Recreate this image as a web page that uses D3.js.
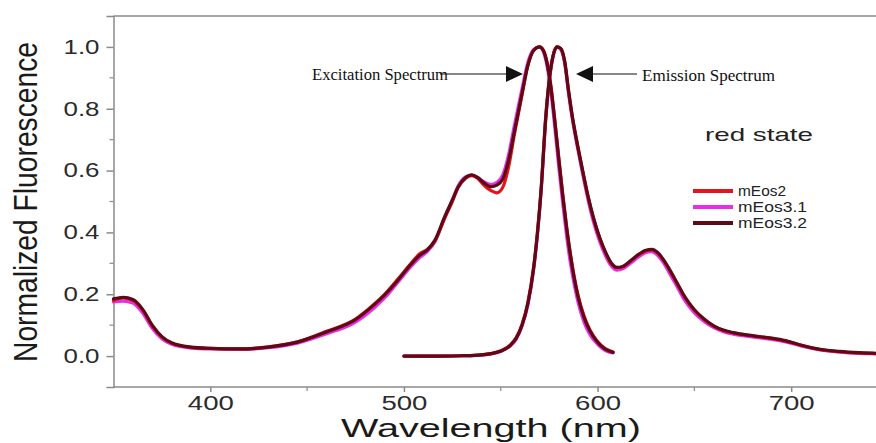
<!DOCTYPE html>
<html><head><meta charset="utf-8">
<script src="https://cdn.jsdelivr.net/npm/d3@7"></script>
<style>body{margin:0;background:#fff}svg{display:block}</style>
</head><body>
<svg id="chart" width="876" height="443"></svg>
<script>
// ---- data ----
const seriesNames = ["mEos2", "mEos3.1", "mEos3.2"];
const seriesColors = ["#e3141c", "#e82ee8", "#5e0a16"];
const xTicks = [400, 500, 600, 700];
const xMinorTicks = [450, 550, 650];
const yTicks = [0.0, 0.2, 0.4, 0.6, 0.8, 1.0];
const yMinorTicks = [0.1, 0.3, 0.5, 0.7, 0.9];

const excWl = [350,355,360,365,370,375,380,390,400,415,430,445,460,475,485,490,497,503,508,512,516,521,525,528,532,535,538,541,545,548,551,554,557,561,564,567,570,572,574,576,578,580,582,584,586,588,590,593,596,600,604,608];
const excMEos2 = [.18,.188,.18,.15,.098,.062,.042,.028,.025,.023,.03,.046,.08,.12,.17,.2,.25,.295,.33,.345,.372,.445,.5,.545,.576,.584,.575,.555,.535,.528,.545,.61,.715,.845,.94,.99,1.0,.99,.948,.87,.76,.64,.525,.42,.33,.255,.195,.13,.085,.047,.024,.013];
const excMEos31 = [.175,.178,.172,.14,.09,.056,.038,.026,.023,.022,.027,.042,.072,.11,.158,.188,.24,.285,.318,.338,.37,.448,.505,.55,.58,.585,.578,.565,.555,.562,.585,.65,.745,.865,.95,.992,1.0,.985,.935,.85,.735,.61,.495,.39,.3,.23,.172,.11,.07,.038,.018,.01];
const excMEos32 = [.185,.19,.183,.152,.10,.063,.043,.029,.025,.023,.029,.045,.078,.118,.168,.197,.246,.292,.325,.343,.375,.45,.505,.547,.578,.586,.578,.562,.548,.553,.572,.632,.725,.85,.94,.988,1.0,.988,.945,.865,.755,.635,.52,.415,.325,.25,.19,.125,.082,.045,.022,.012];

const emWl = [500,510,520,530,540,545,550,555,558,561,564,567,569,571,573,575,577,579,581,583,585,587,589,592,595,598,601,604,607,610,613,617,621,625,628,631,634,637,641,645,650,655,660,665,670,680,690,697,705,715,725,735,745,750];
const emMEos2 = [0,0,0,.001,.004,.008,.017,.036,.06,.103,.173,.29,.405,.555,.755,.892,.972,1.0,.994,.952,.858,.772,.702,.607,.518,.443,.383,.336,.3,.286,.289,.307,.327,.341,.344,.334,.311,.281,.236,.191,.149,.119,.097,.083,.075,.065,.057,.049,.035,.021,.014,.01,.008,.007];
const emMEos31 = [0,0,0,.001,.003,.007,.015,.033,.055,.097,.165,.28,.395,.545,.745,.885,.968,1.0,.992,.948,.85,.765,.695,.598,.508,.432,.372,.326,.292,.278,.282,.3,.32,.335,.338,.326,.302,.27,.225,.18,.14,.112,.092,.079,.071,.062,.054,.046,.033,.02,.013,.009,.007,.006];
const emMEos32 = [0,0,0,.001,.004,.008,.016,.035,.058,.10,.17,.285,.40,.55,.75,.89,.97,1.0,.995,.955,.86,.775,.705,.61,.52,.445,.385,.338,.302,.287,.29,.308,.328,.342,.345,.335,.312,.282,.237,.192,.15,.12,.098,.084,.076,.066,.058,.05,.036,.022,.015,.011,.009,.008];

// ---- chart ----
const svg = d3.select("#chart");
const x = d3.scaleLinear().domain([350, 750]).range([113.5, 888]);
const y = d3.scaleLinear().domain([-0.1, 1.1]).range([387, 16]);
const axisColor = "#8a8a8a";
const textColor = "#2b2b2b";

// frame top line
svg.append("line").attr("x1", x(350)).attr("x2", 876).attr("y1", y(1.1)).attr("y2", y(1.1))
  .attr("stroke", axisColor).attr("stroke-width", 1.5);

// X axis
const gx = svg.append("g").attr("transform", `translate(0,${y(-0.1)})`)
  .call(d3.axisBottom(x).tickValues(xTicks).tickSize(5).tickPadding(4).tickFormat(d3.format("d")));
gx.append("g").selectAll("line").data(xMinorTicks).join("line")
  .attr("x1", d => x(d)).attr("x2", d => x(d)).attr("y1", 0).attr("y2", 4)
  .attr("stroke", axisColor).attr("stroke-width", 1.2);
gx.select(".domain").attr("d", `M${x(350)},0H876`);
gx.selectAll(".domain, .tick line").attr("stroke", axisColor).attr("stroke-width", 1.5);
gx.selectAll(".tick text").attr("font-family", "Liberation Sans, Arial, sans-serif")
  .attr("font-size", 20).attr("fill", textColor).attr("textLength", 46)
  .attr("lengthAdjust", "spacingAndGlyphs");

// Y axis
const gy = svg.append("g").attr("transform", `translate(${x(350)},0)`)
  .call(d3.axisLeft(y).tickValues(yTicks).tickSize(7).tickPadding(7).tickFormat(d3.format(".1f")));
gy.append("g").selectAll("line").data(yMinorTicks).join("line")
  .attr("x1", 0).attr("x2", -4).attr("y1", d => y(d)).attr("y2", d => y(d))
  .attr("stroke", axisColor).attr("stroke-width", 1.2);
gy.selectAll(".domain, .tick line").attr("stroke", axisColor).attr("stroke-width", 1.5);
gy.selectAll(".tick text").attr("font-family", "Liberation Sans, Arial, sans-serif")
  .attr("font-size", 20).attr("fill", textColor).attr("textLength", 36)
  .attr("lengthAdjust", "spacingAndGlyphs");

// Axis titles
svg.append("text").attr("x", 491).attr("y", 437).attr("text-anchor", "middle")
  .attr("font-family", "Liberation Sans, Arial, sans-serif").attr("font-size", 26)
  .attr("fill", "#1a1a1a").attr("textLength", 300).attr("lengthAdjust", "spacingAndGlyphs")
  .text("Wavelength (nm)");
svg.append("text").attr("transform", "translate(37,202) scale(1.2,1) rotate(-90)")
  .attr("text-anchor", "middle")
  .attr("font-family", "Liberation Sans, Arial, sans-serif").attr("font-size", 28)
  .attr("fill", "#1a1a1a").attr("textLength", 320).attr("lengthAdjust", "spacingAndGlyphs")
  .text("Normalized  Fluorescence");

// Curves
const line = d3.line().x(d => x(d[0])).y(d => y(d[1])).curve(d3.curveMonotoneX);
const excSeries = [excMEos2, excMEos31, excMEos32];
const emSeries = [emMEos2, emMEos31, emMEos32];
const drawOrder = [1, 0, 2];
const curves = svg.append("g").attr("fill", "none").attr("stroke-width", 3.2)
  .attr("stroke-linejoin", "round").attr("stroke-linecap", "round");
drawOrder.forEach(i => {
  curves.append("path").datum(excWl.map((w, k) => [w, excSeries[i][k]]))
    .attr("d", line).attr("stroke", seriesColors[i]);
  curves.append("path").datum(emWl.map((w, k) => [w, emSeries[i][k]]))
    .attr("d", line).attr("stroke", seriesColors[i]);
});

// Annotations
svg.append("text").attr("x", 312).attr("y", 80)
  .attr("font-family", "Liberation Serif, Times New Roman, serif").attr("font-size", 16)
  .attr("fill", "#111").attr("textLength", 136).attr("lengthAdjust", "spacingAndGlyphs")
  .text("Excitation Spectrum");
svg.append("line").attr("x1", 440).attr("x2", 508).attr("y1", 74).attr("y2", 74)
  .attr("stroke", "#111").attr("stroke-width", 1.2);
svg.append("path").attr("d", "M523,74 L506,66 L506,82 Z").attr("fill", "#111");

svg.append("text").attr("x", 642).attr("y", 81)
  .attr("font-family", "Liberation Serif, Times New Roman, serif").attr("font-size", 16)
  .attr("fill", "#111").attr("textLength", 133).attr("lengthAdjust", "spacingAndGlyphs")
  .text("Emission Spectrum");
svg.append("line").attr("x1", 590).attr("x2", 637).attr("y1", 74).attr("y2", 74)
  .attr("stroke", "#111").attr("stroke-width", 1.2);
svg.append("path").attr("d", "M576,74 L593,66 L593,82 Z").attr("fill", "#111");

svg.append("text").attr("x", 705).attr("y", 141)
  .attr("font-family", "Liberation Sans, Arial, sans-serif").attr("font-size", 19)
  .attr("fill", "#222").attr("textLength", 108).attr("lengthAdjust", "spacingAndGlyphs")
  .text("red state");

// Legend
const legendY = [191, 207, 223];
const legendLen = [48, 69, 69];
const lg = svg.append("g");
seriesNames.forEach((n, i) => {
  lg.append("line").attr("x1", 693).attr("x2", 733).attr("y1", legendY[i]).attr("y2", legendY[i])
    .attr("stroke", seriesColors[i]).attr("stroke-width", 4);
  lg.append("text").attr("x", 738).attr("y", legendY[i] + 5)
    .attr("font-family", "Liberation Sans, Arial, sans-serif").attr("font-size", 15)
    .attr("fill", "#222").attr("textLength", legendLen[i]).attr("lengthAdjust", "spacingAndGlyphs")
    .text(n);
});
</script>
</body></html>
